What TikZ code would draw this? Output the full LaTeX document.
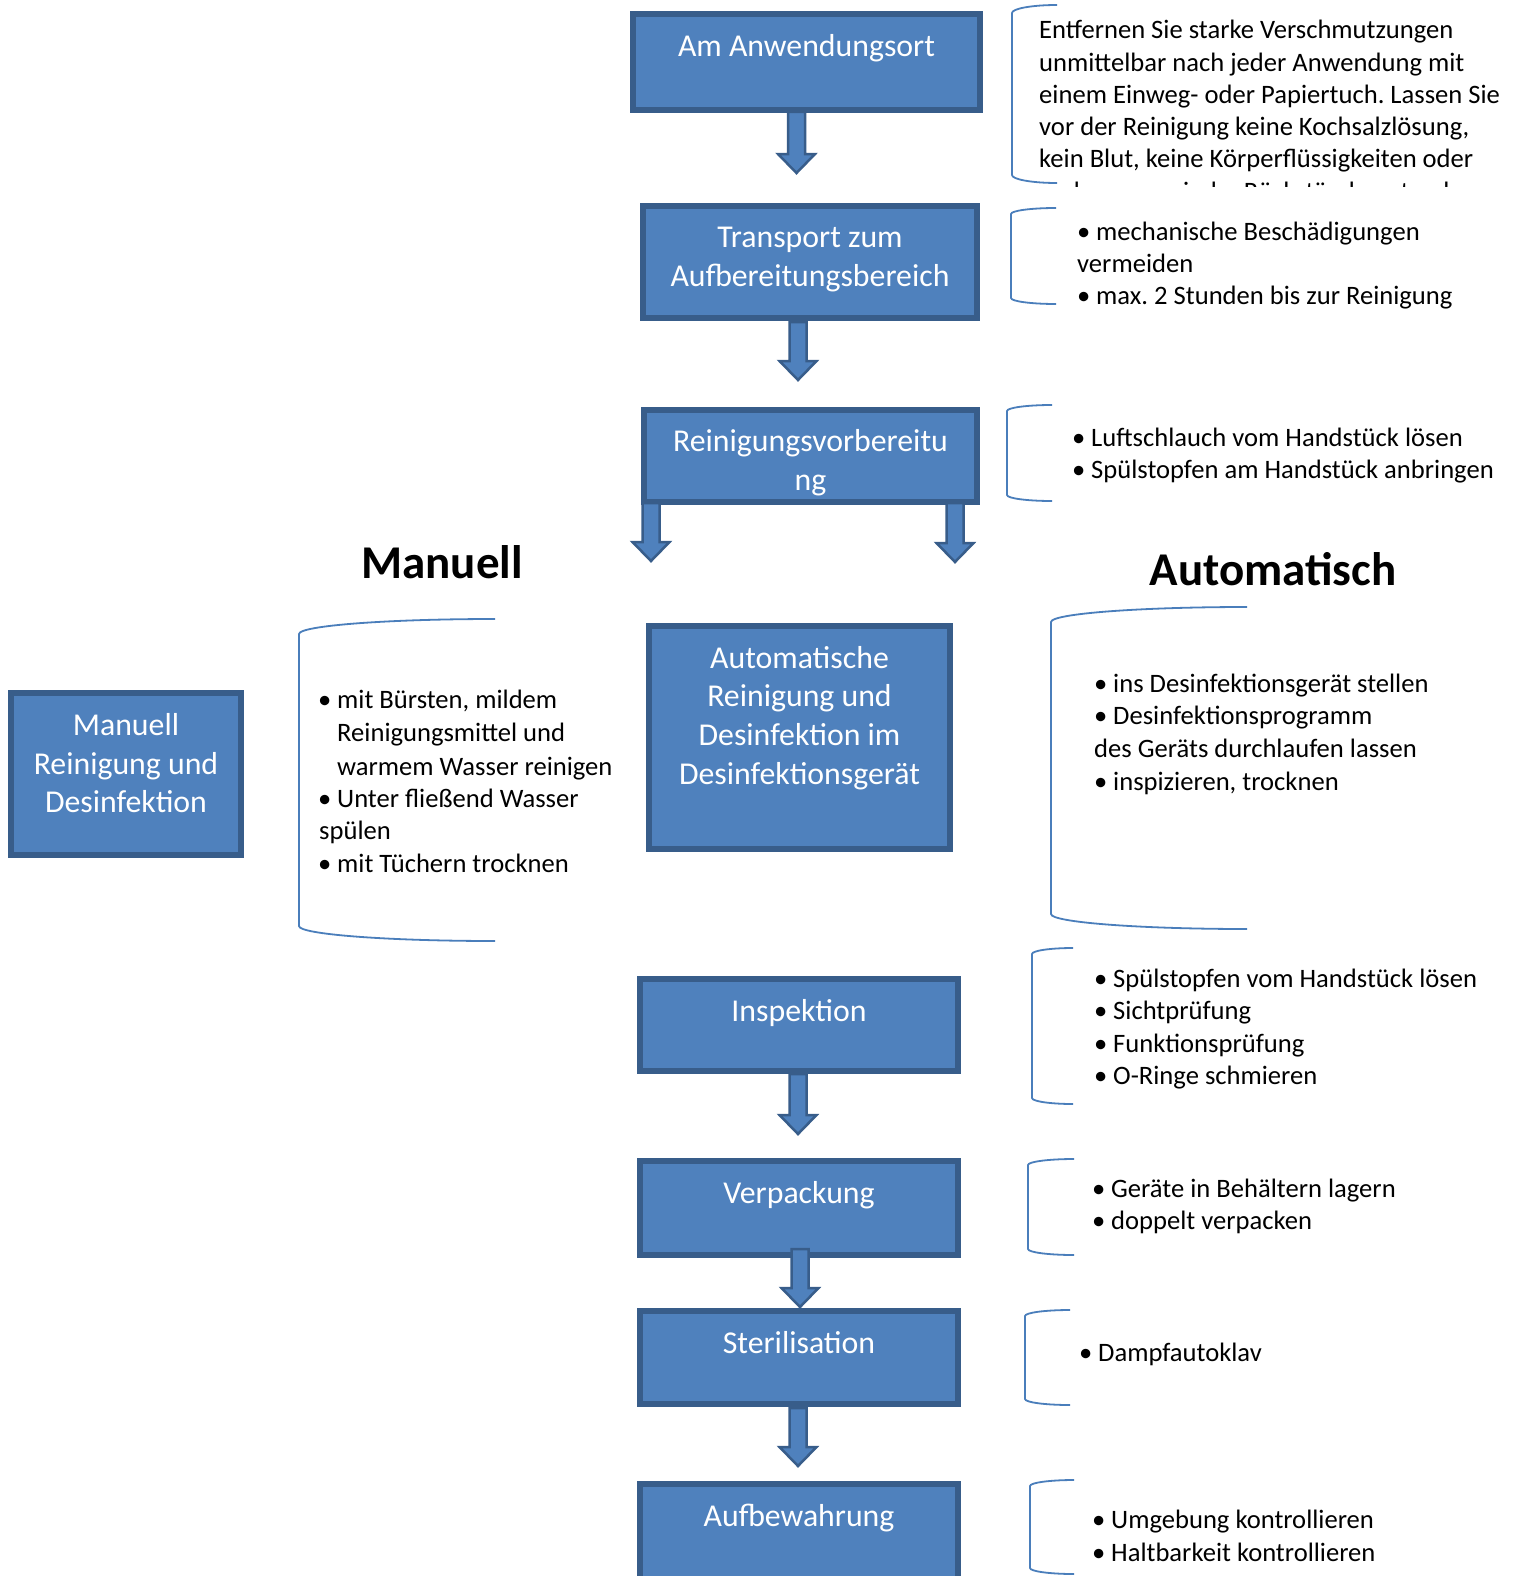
\documentclass[tikz,border=0pt]{standalone}
\usepackage{fontspec}
\setmainfont{Carlito}
\usetikzlibrary{calc}
\frenchspacing
\definecolor{boxfill}{HTML}{4F81BD}
\definecolor{boxline}{HTML}{385D8A}
\definecolor{brk}{HTML}{4A7EBB}
\newcommand\bulit{\makebox[19pt][l]{•}}
\newcommand\lbrk[5]{% xl, xr, ytop, ybot, d
  \draw[brkstyle] (#2,#3) arc[start angle=270, end angle=180, x radius=#2-#1, y radius=#5]
    -- (#1,#4-#5) arc[start angle=180, end angle=90, x radius=#2-#1, y radius=#5];}
\newcommand\blockarr[2]{% start coordinate, tip coordinate
  \filldraw[arrstyle] let \p1=(#1), \p2=(#2) in
   (\x1-8.5pt,\y1) -- (\x1+8.5pt,\y1) -- (\x1+8.5pt,\y2+19pt) -- (\x1+18.5pt,\y2+19pt)
   -- (\x2,\y2) -- (\x1-18.5pt,\y2+19pt) -- (\x1-8.5pt,\y2+19pt) -- cycle;}
\tikzset{
  stepbox/.style={draw=boxline, fill=boxfill, line width=6pt, inner sep=0pt, rectangle},
  boxtxt/.style={anchor=base, inner sep=0pt, text=white, font=\fontsize{31.8}{38}\selectfont},
  btxt/.style={anchor=base west, inner sep=0pt, font=\fontsize{26.6}{32}\selectfont},
  headtxt/.style={anchor=base, inner sep=0pt, font=\fontsize{47}{56}\selectfont\bfseries},
  brkstyle/.style={draw=brk, line width=1.8pt},
  arrstyle/.style={fill=boxfill, draw=boxline, line width=2.5pt, line join=miter},
}
\begin{document}
\begin{tikzpicture}[x=1pt, y=-1pt]
\useasboundingbox (0,0) rectangle (1516,1576);
\clip (0,0) rectangle (1516,1576);
\fill[white] (0,0) rectangle (1516,1576);

% boxes
\node[stepbox, minimum width=347, minimum height=96] (b1) at (806.5,62) {};
\node[stepbox, minimum width=334, minimum height=112] (b2) at (810,262) {};
\node[stepbox, minimum width=333, minimum height=92] (b3) at (810.5,456) {};
\node[stepbox, minimum width=301, minimum height=223] (bauto) at (799.5,737.5) {};
\node[stepbox, minimum width=230, minimum height=162] (bman) at (126,774) {};
\node[stepbox, minimum width=318, minimum height=92] (binsp) at (799,1025) {};
\node[stepbox, minimum width=318, minimum height=94] (bverp) at (799,1208) {};
\node[stepbox, minimum width=318, minimum height=93] (bster) at (799,1357.5) {};
\node[stepbox, minimum width=318, minimum height=103] (baufb) at (799,1535.5) {};

% box texts
\node[boxtxt] (b1t) at (806.5,57) {Am Anwendungsort};
\node[boxtxt] (b2ta) at (810,247) {Transport zum};
\node[boxtxt] (b2tb) at (810,286) {Aufbereitungsbereich};
\node[boxtxt] (b3ta) at (810.5,451) {Reinigungsvorbereitu};
\node[boxtxt] (b3tb) at (810.5,490) {ng};
\node[boxtxt] (bata) at (799.5,668) {Automatische};
\node[boxtxt] (batb) at (799.5,706) {Reinigung und};
\node[boxtxt] (batc) at (799.5,745) {Desinfektion im};
\node[boxtxt] (batd) at (799.5,784) {Desinfektionsgerät};
\node[boxtxt] (bmta) at (126,735) {Manuell};
\node[boxtxt] (bmtb) at (126,774) {Reinigung und};
\node[boxtxt] (bmtc) at (126,812) {Desinfektion};
\node[boxtxt] (bit) at (799,1021) {Inspektion};
\node[boxtxt] (bvt) at (799,1203) {Verpackung};
\node[boxtxt] (bst) at (799,1353) {Sterilisation};
\node[boxtxt] (bat) at (799,1526) {Aufbewahrung};

% block arrows
\coordinate (a1s) at (796.5,112); \coordinate (a1e) at (796.5,173);
\coordinate (a2s) at (798,322);   \coordinate (a2e) at (798,380);
\coordinate (a3s) at (651,503);   \coordinate (a3e) at (651,561);
\coordinate (a4s) at (955,503);   \coordinate (a4e) at (955,562);
\coordinate (a5s) at (798,1074);  \coordinate (a5e) at (798,1134);
\coordinate (a6s) at (800,1249);  \coordinate (a6e) at (800,1307);
\coordinate (a7s) at (798,1408);  \coordinate (a7e) at (798,1466);
\blockarr{a1s}{a1e}
\blockarr{a2s}{a2e}
\blockarr{a3s}{a3e}
\blockarr{a4s}{a4e}
\blockarr{a5s}{a5e}
\blockarr{a6s}{a6e}
\blockarr{a7s}{a7e}

% headings
\node[headtxt] (hman) at (442,578) {Manuell};
\node[headtxt] (haut) at (1273,585) {Automatisch};

% brackets
\lbrk{1012}{1057}{5}{183}{8}
\lbrk{1011}{1056}{208}{304}{6}
\lbrk{1007}{1052}{405}{501}{6}
\lbrk{299}{495}{619}{941}{15}
\lbrk{1051}{1247}{607}{929}{15}
\lbrk{1032}{1073}{948}{1104}{6}
\lbrk{1028}{1074}{1159}{1255}{6}
\lbrk{1025}{1070}{1310}{1405}{6}
\lbrk{1030}{1074}{1480}{1574}{6}

% top text (clipped)
\begin{scope}
\clip (1020,0) rectangle (1516,186);
\node[btxt] (t1a) at (1039,39) {Entfernen Sie starke Verschmutzungen};
\node[btxt] (t1b) at (1039,71.2) {unmittelbar nach jeder Anwendung mit};
\node[btxt] (t1c) at (1039,103.4) {einem Einweg- oder Papiertuch. Lassen Sie};
\node[btxt] (t1d) at (1039,135.6) {vor der Reinigung keine Kochsalzlösung,};
\node[btxt] (t1e) at (1039,167.8) {kein Blut, keine Körperflüssigkeiten oder};
\node[btxt] (t1f) at (1039,200) {andere organische Rückstände antrocknen.};
\end{scope}

\node[btxt] (t2a) at (1077,240) {\bulit mechanische Beschädigungen};
\node[btxt] (t2b) at (1077,272.4) {vermeiden};
\node[btxt] (t2c) at (1077,304.6) {\bulit max. 2 Stunden bis zur Reinigung};

\node[btxt] (t3a) at (1072,446.3) {\bulit Luftschlauch vom Handstück lösen};
\node[btxt] (t3b) at (1072,478.5) {\bulit Spülstopfen am Handstück anbringen};

\node[btxt] (tma) at (318,708.7) {\bulit mit Bürsten, mildem};
\node[btxt] (tmb) at (337,741.9) {Reinigungsmittel und};
\node[btxt] (tmc) at (337,775) {warmem Wasser reinigen};
\node[btxt] (tmd) at (318,807.2) {\bulit Unter fließend Wasser};
\node[btxt] (tme) at (319,839.4) {spülen};
\node[btxt] (tmf) at (318,872.6) {\bulit mit Tüchern trocknen};

\node[btxt] (taa) at (1094,692) {\bulit ins Desinfektionsgerät stellen};
\node[btxt] (tab) at (1094,724.5) {\bulit Desinfektionsprogramm};
\node[btxt] (tac) at (1094,757.5) {des Geräts durchlaufen lassen};
\node[btxt] (tad) at (1094,790) {\bulit inspizieren, trocknen};

\node[btxt] (tia) at (1094,987) {\bulit Spülstopfen vom Handstück lösen};
\node[btxt] (tib) at (1094,1019.3) {\bulit Sichtprüfung};
\node[btxt] (tic) at (1094,1052.5) {\bulit Funktionsprüfung};
\node[btxt] (tid) at (1094,1084.7) {\bulit O-Ringe schmieren};

\node[btxt] (tva) at (1092,1197.3) {\bulit Geräte in Behältern lagern};
\node[btxt] (tvb) at (1092,1229.4) {\bulit doppelt verpacken};

\node[btxt] (tsa) at (1079,1361) {\bulit Dampfautoklav};

\node[btxt] (tua) at (1092,1528) {\bulit Umgebung kontrollieren};
\node[btxt] (tub) at (1092,1561) {\bulit Haltbarkeit kontrollieren};
\end{tikzpicture}
\end{document}
